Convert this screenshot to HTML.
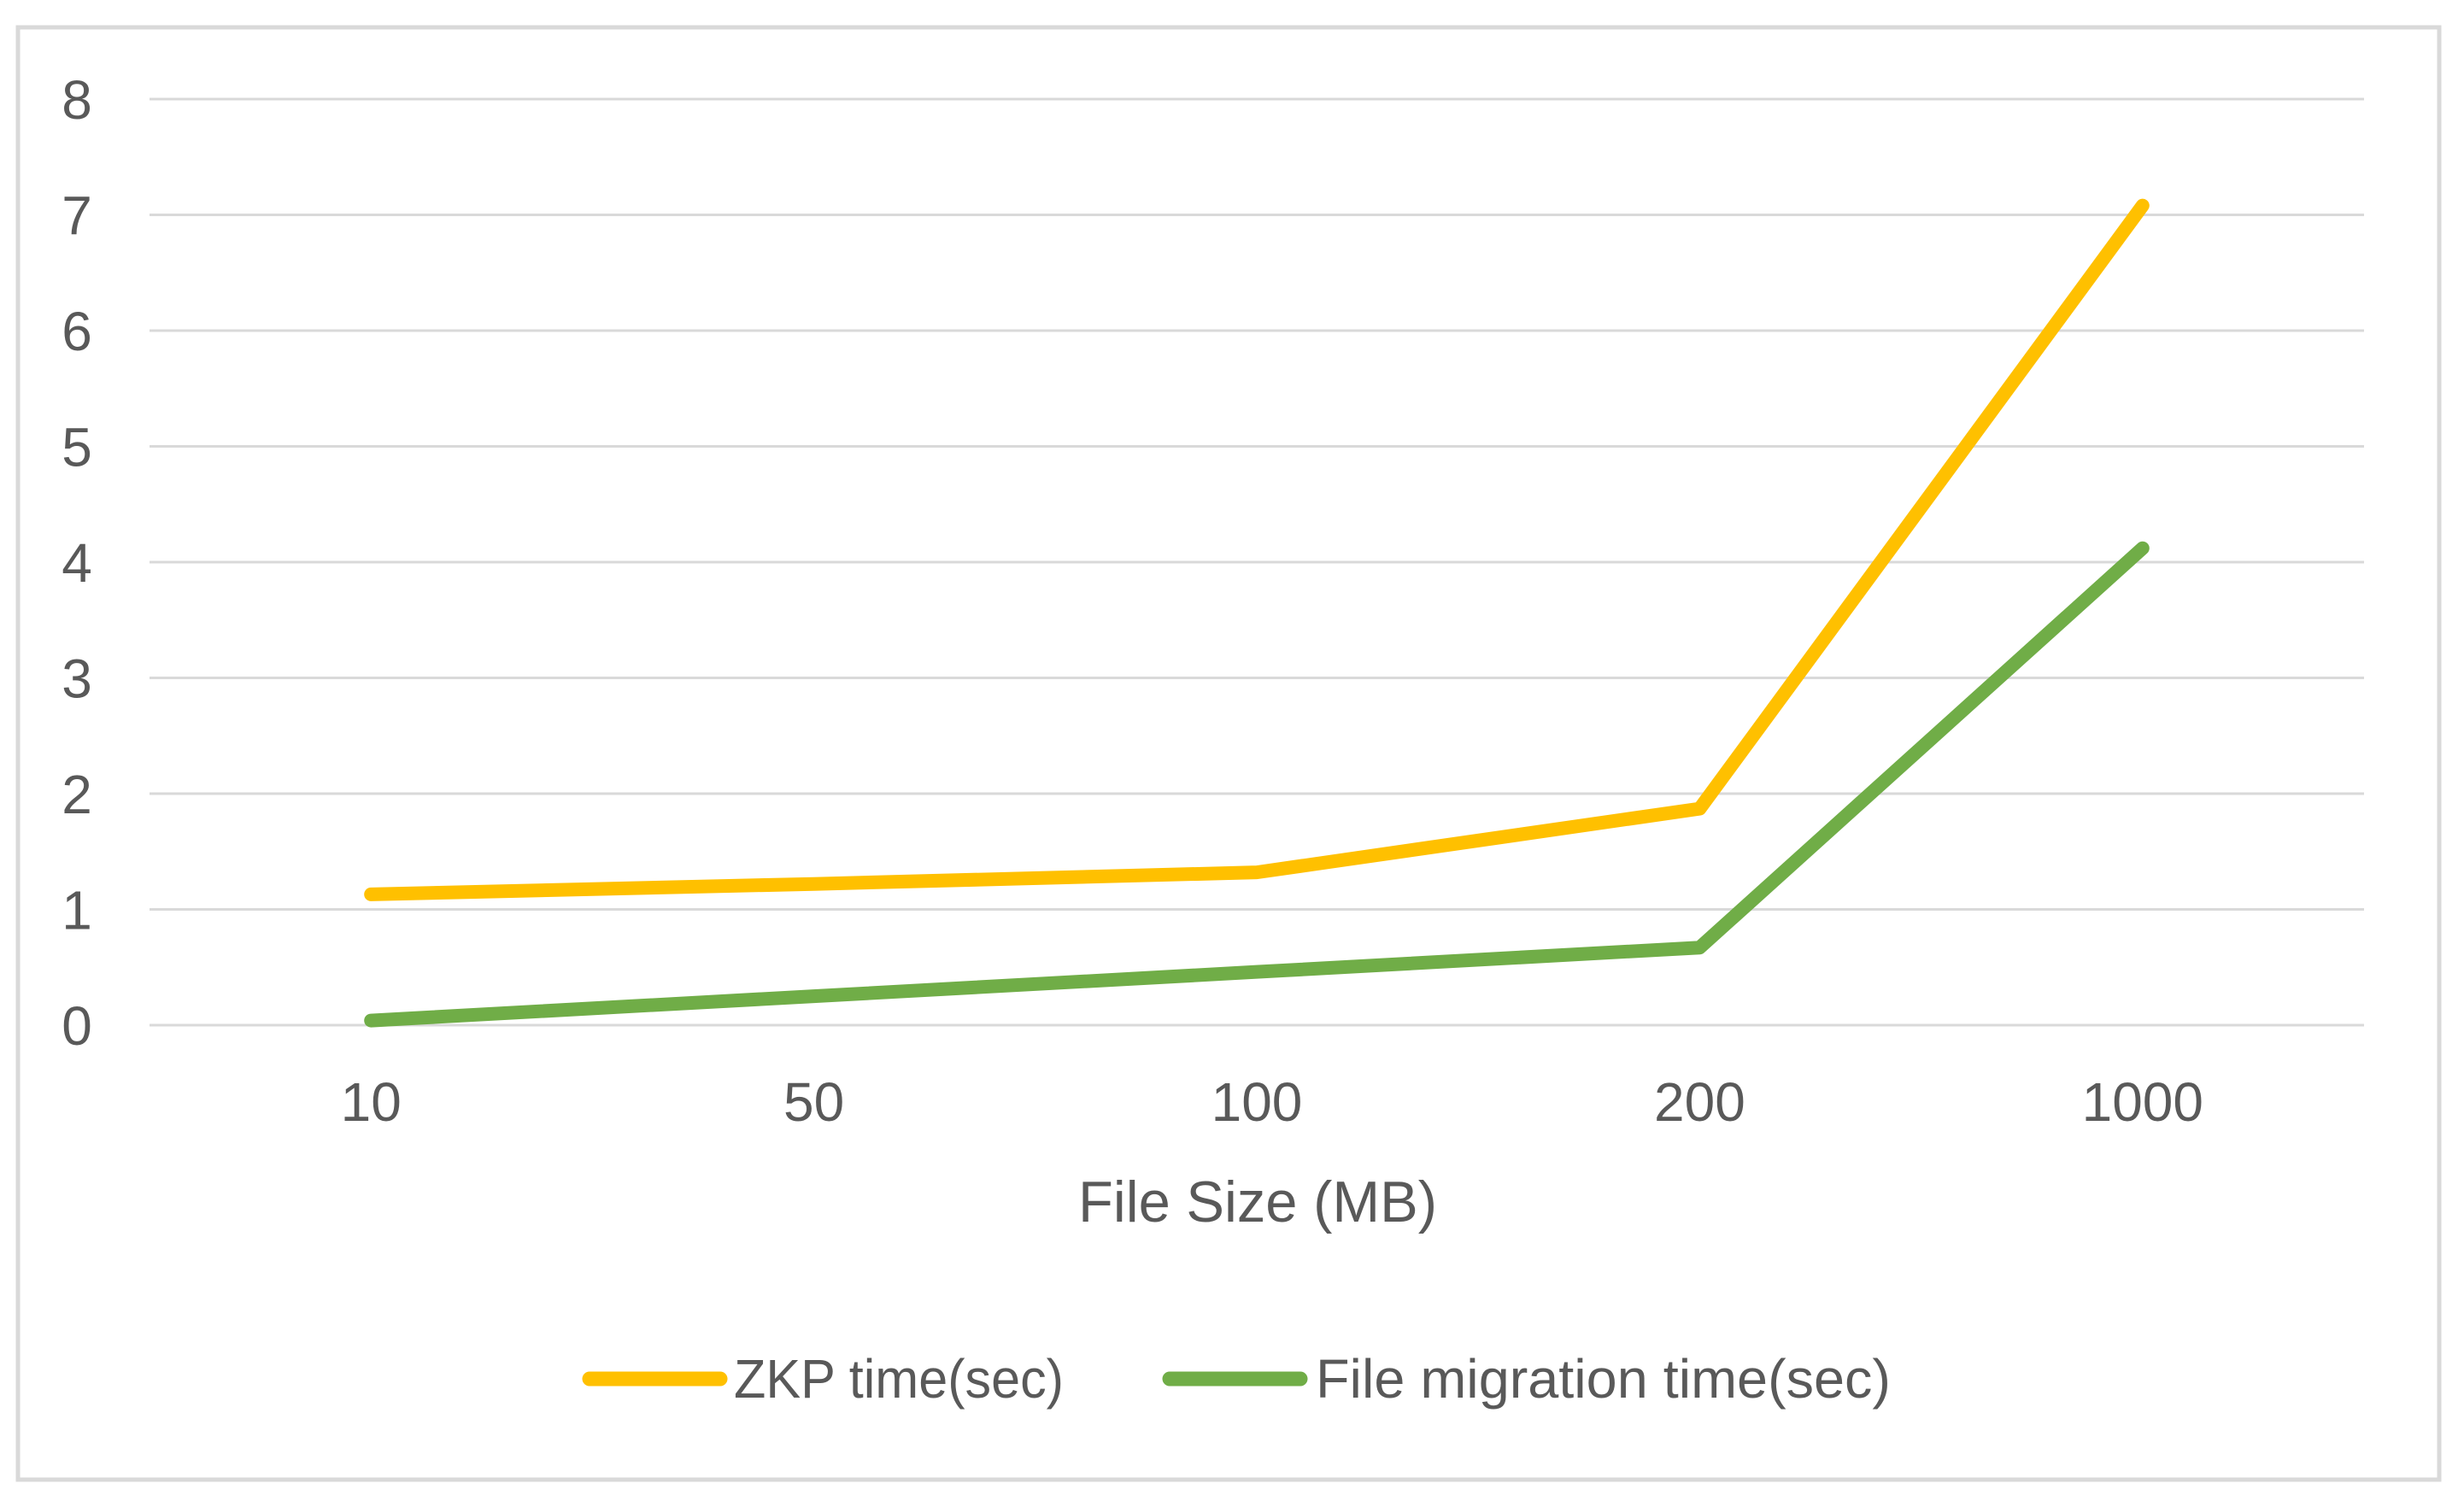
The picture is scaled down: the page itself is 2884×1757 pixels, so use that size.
<!DOCTYPE html>
<html><head><meta charset="utf-8"><style>
html,body{margin:0;padding:0;background:#fff;}
svg{display:block;}
text{font-family:"Liberation Sans",sans-serif;fill:#595959;}
</style></head><body>
<svg id="chart" width="2884" height="1757" viewBox="0 0 2884 1757" xmlns="http://www.w3.org/2000/svg">
<rect x="21" y="32" width="2834" height="1700" fill="#fff" stroke="#d9d9d9" stroke-width="5"/>
<g id="grid"></g><g id="yticks"></g><g id="xticks"></g><g id="series"></g>
<text x="1472" y="1430" font-size="68" text-anchor="middle" textLength="420" lengthAdjust="spacingAndGlyphs">File Size (MB)</text>
<g>
<g>
<line x1="690" y1="1614" x2="843" y2="1614" stroke="#ffc000" stroke-width="17" stroke-linecap="round"/>
<text x="859" y="1636" font-size="64" textLength="386" lengthAdjust="spacingAndGlyphs">ZKP time(sec)</text>
</g>
<g>
<line x1="1369" y1="1614" x2="1522" y2="1614" stroke="#70ad47" stroke-width="17" stroke-linecap="round"/>
<text x="1540" y="1636" font-size="64" textLength="673" lengthAdjust="spacingAndGlyphs">File migration time(sec)</text>
</g>
</g>
</svg>
<script>
const categories = ["10","50","100","200","1000"];
const zkpValues = [1.13, 1.22, 1.32, 1.87, 7.08];
const migrationValues = [0.04, 0.25, 0.46, 0.67, 4.12];
const yTicks = [0,1,2,3,4,5,6,7,8];

const NS="http://www.w3.org/2000/svg";
const plotL=175, plotR=2767, y0=1200, y8=116, yMax=8;
const band=(plotR-plotL)/categories.length;
function xPos(i){return plotL+band*(i+0.5);}
function yPos(v){return y0-(y0-y8)*v/yMax;}
function mk(tag,attrs,parent){const e=document.createElementNS(NS,tag);for(const k in attrs)e.setAttribute(k,attrs[k]);parent.appendChild(e);return e;}

const grid=document.getElementById('grid'), yt=document.getElementById('yticks'), xt=document.getElementById('xticks'), ser=document.getElementById('series');
yTicks.forEach(t=>{
  const l=mk('line',{x1:plotL,x2:plotR,y1:yPos(t),y2:yPos(t),stroke:'#d9d9d9','stroke-width':3},grid);
  
  
  const tx=mk('text',{x:90,y:yPos(t)+23,'font-size':64,'text-anchor':'middle'},yt);
  tx.textContent=String(t);
  
  
});
categories.forEach((c,i)=>{
  const tx=mk('text',{x:xPos(i),y:1312,'font-size':64,'text-anchor':'middle'},xt);
  tx.textContent=c;
  
  
});
function drawSeries(vals,color,name){
  const pts=vals.map((v,i)=>xPos(i)+','+yPos(v)).join(' ');
  const p=mk('polyline',{points:pts,fill:'none',stroke:color,'stroke-width':16,'stroke-linecap':'round','stroke-linejoin':'round'},ser);
  
  
}
drawSeries(migrationValues,'#70ad47','migration-time-line');
drawSeries(zkpValues,'#ffc000','zkp-time-line');
</script>
</body></html>
